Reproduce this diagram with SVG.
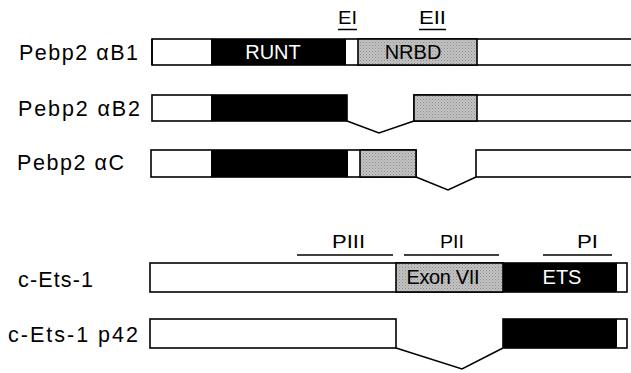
<svg xmlns="http://www.w3.org/2000/svg" width="631" height="373" viewBox="0 0 631 373">
  <style>
    .lbl { font-family: "Liberation Sans", Arial, sans-serif; font-size: 21.5px; fill: #000; }
    .dom { font-family: "Liberation Sans", Arial, sans-serif; font-size: 20px; text-anchor: middle; }
    .reg { font-family: "Liberation Sans", Arial, sans-serif; font-size: 18px; fill: #000; }
    .box { stroke: #000; stroke-width: 1.6; }
    .white { fill: #fff; }
    .black { fill: #000; }
    .gray { fill: url(#halftone); }
    .rule { stroke: #000; stroke-width: 1.5; fill: none; }
  </style>
  <defs>
    <pattern id="halftone" width="3" height="3" patternUnits="userSpaceOnUse">
      <rect width="3" height="3" fill="#c4c4c4"/>
      <rect x="0" y="0" width="1" height="1" fill="#8a8a8a"/>
      <rect x="1.5" y="1.5" width="1" height="1" fill="#9a9a9a"/>
    </pattern>
  </defs>

  <rect width="631" height="373" fill="#fff"/>

  <!-- Pebp2 alphaB1 -->
  <g id="pebp2-ab1">
    <text class="lbl" x="19" y="60" textLength="119" lengthAdjust="spacing">Pebp2  αB1</text>
    <rect class="box white" x="152" y="39" width="482" height="26"/>
    <rect class="black" x="211" y="39" width="135" height="26"/>
    <rect class="box gray" x="358" y="39" width="119" height="26"/>
    <line class="box" x1="152" y1="39" x2="152" y2="65"/>
    <text class="dom" x="273" y="59" fill="#fff">RUNT</text>
    <text class="dom" x="413" y="59" fill="#000">NRBD</text>
  </g>

  <!-- exon labels above alphaB1 -->
  <g id="exon-labels">
    <text class="reg" x="338" y="24" textLength="19" lengthAdjust="spacingAndGlyphs">EI</text>
    <line class="rule" x1="338" y1="29.5" x2="357" y2="29.5"/>
    <text class="reg" x="419" y="24" textLength="27" lengthAdjust="spacingAndGlyphs">EII</text>
    <line class="rule" x1="419" y1="29.5" x2="446" y2="29.5"/>
  </g>

  <!-- Pebp2 alphaB2 -->
  <g id="pebp2-ab2">
    <text class="lbl" x="18" y="116" textLength="122" lengthAdjust="spacing">Pebp2  αB2</text>
    <rect class="box white" x="152" y="95" width="195" height="26"/>
    <rect class="black" x="211" y="95" width="136" height="26"/>
    <rect class="box white" x="414" y="95" width="220" height="26"/>
    <rect class="box gray" x="414" y="95" width="63" height="26"/>
  </g>

  <!-- Pebp2 alphaC -->
  <g id="pebp2-ac">
    <text class="lbl" x="17" y="170" textLength="107" lengthAdjust="spacing">Pebp2  αC</text>
    <rect class="box white" x="151" y="150" width="265" height="27"/>
    <rect class="black" x="211" y="150" width="137" height="27"/>
    <rect class="box gray" x="360" y="150" width="56" height="27"/>
    <rect class="box white" x="476" y="150" width="158" height="27"/>
  </g>

  <!-- PIII / PII / PI regions -->
  <g id="p-regions">
    <text class="reg" x="332" y="248" textLength="33" lengthAdjust="spacingAndGlyphs">PIII</text>
    <line class="rule" x1="297" y1="255" x2="393" y2="255"/>
    <text class="reg" x="440" y="248" textLength="24" lengthAdjust="spacingAndGlyphs">PII</text>
    <line class="rule" x1="404" y1="255" x2="499" y2="255"/>
    <text class="reg" x="577" y="248" textLength="21" lengthAdjust="spacingAndGlyphs">PI</text>
    <line class="rule" x1="543" y1="255" x2="612" y2="255"/>
  </g>

  <!-- c-Ets-1 -->
  <g id="c-ets-1">
    <text class="lbl" x="18" y="287" textLength="75" lengthAdjust="spacing">c-Ets-1</text>
    <rect class="box white" x="150" y="263" width="477" height="29"/>
    <rect class="box gray" x="396" y="263" width="107" height="29"/>
    <rect class="black" x="503" y="263" width="114" height="29"/>
    <text class="dom" x="443" y="284" fill="#000" textLength="73" lengthAdjust="spacing">Exon VII</text>
    <text class="dom" x="562" y="284" fill="#fff">ETS</text>
  </g>

  <!-- c-Ets-1 p42 -->
  <g id="c-ets-1-p42">
    <text class="lbl" x="8" y="342" textLength="130" lengthAdjust="spacing">c-Ets-1 p42</text>
    <rect class="box white" x="150" y="319" width="246" height="29"/>
    <rect class="box white" x="503" y="319" width="124" height="29"/>
    <rect class="black" x="503" y="319" width="114" height="29"/>
  </g>

  <!-- splice connectors -->
  <g id="connectors">
    <polyline class="rule" points="347,121 379,133 414,121"/>
    <polyline class="rule" points="416,177 448,190 476,177"/>
    <polyline class="rule" points="396,348 462,369 503,348"/>
  </g>
</svg>
